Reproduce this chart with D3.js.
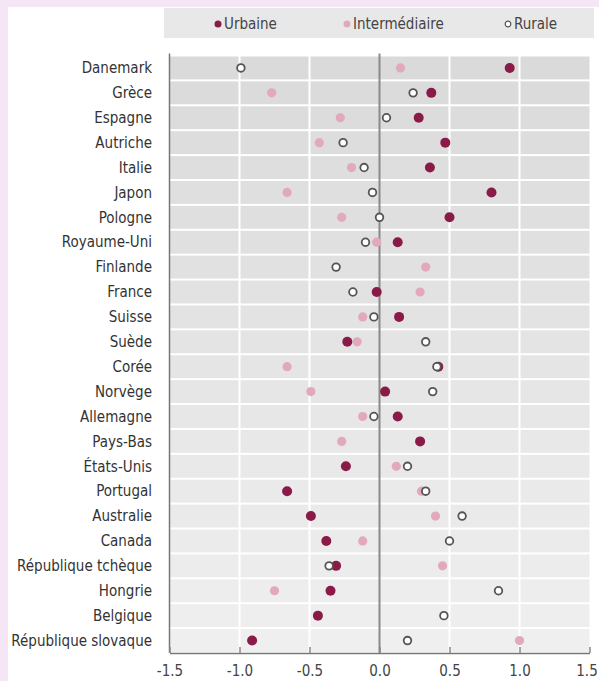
<!DOCTYPE html>
<meta charset="utf-8">
<style>
  body { margin: 0; background: #fff; }
  svg { display: block; }
  text { font-family: "DejaVu Sans", sans-serif; font-stretch: condensed; fill: #333; }
</style>
<body>
<script src="https://cdn.jsdelivr.net/npm/d3@7"></script>
<script>

  var countries = ["Danemark", "Grèce", "Espagne", "Autriche", "Italie", "Japon", "Pologne",
    "Royaume-Uni", "Finlande", "France", "Suisse", "Suède", "Corée", "Norvège", "Allemagne",
    "Pays-Bas", "États-Unis", "Portugal", "Australie", "Canada", "République tchèque",
    "Hongrie", "Belgique", "République slovaque"];

  var urbaine = [0.93, 0.37, 0.28, 0.47, 0.36, 0.80, 0.50, 0.13, null, -0.02, 0.14, -0.23, 0.42,
    0.04, 0.13, 0.29, -0.24, -0.66, -0.49, -0.38, -0.31, -0.35, -0.44, -0.91];

  var intermediaire = [0.15, -0.77, -0.28, -0.43, -0.20, -0.66, -0.27, -0.02, 0.33, 0.29, -0.12,
    -0.16, -0.66, -0.49, -0.12, -0.27, 0.12, 0.30, 0.40, -0.12, 0.45, -0.75, null, 1.00];

  var rurale = [-0.99, 0.24, 0.05, -0.26, -0.11, -0.05, 0.0, -0.10, -0.31, -0.19, -0.04, 0.33, 0.41,
    0.38, -0.04, null, 0.20, 0.33, 0.59, 0.50, -0.36, 0.85, 0.46, 0.20];

  var ticks = [-1.5, -1.0, -0.5, 0.0, 0.5, 1.0, 1.5];

  var W = 599, H = 681;
  var margin = {top: 55.5, left: 169.5, right: 9.5, bottom: 28};

  var svg = d3.select("body").append("svg")
    .attr("width", W)
    .attr("height", H);

  // pink frame on top and left
  svg.append("rect").attr("width", W).attr("height", H).attr("fill", "#f4e6f4");
  svg.append("rect").attr("x", 8).attr("y", 7).attr("width", W - 8).attr("height", H - 7).attr("fill", "#fff");

  var x = d3.scaleLinear()
    .domain([-1.5, 1.5])
    .range([margin.left, W - margin.right]);

  var y = d3.scaleBand()
    .domain(countries)
    .range([margin.top, H - margin.bottom]);

  // Legend bar.
  svg.append("rect")
    .attr("x", 164).attr("y", 8).attr("width", 430).attr("height", 30)
    .attr("fill", "#e8e8e8");

  var legend = [
    {name: "Urbaine", x: 218, fill: "#8a1a48", stroke: "none"},
    {name: "Intermédiaire", x: 347, fill: "#e2a9be", stroke: "none"},
    {name: "Rurale", x: 508, fill: "#fff", stroke: "#555"}
  ];
  var lg = svg.selectAll(".leg").data(legend).enter().append("g")
    .attr("transform", function(d) { return "translate(" + d.x + ",24)"; });
  lg.append("circle")
    .attr("r", function(d) { return d.stroke == "none" ? 3.5 : 2.8; })
    .attr("fill", function(d) { return d.fill; })
    .attr("stroke", function(d) { return d.stroke; })
    .attr("stroke-width", 1.2);
  lg.append("text")
    .attr("x", 6).attr("dy", "0.35em")
    .style("font-size", "15px")
    .style("fill", "#444")
    .text(function(d) { return d.name; });

  // Row bands, getting lighter towards the bottom.
  var shade = d3.interpolateRgb("#dadada", "#efefef");
  svg.selectAll(".band").data(countries).enter().append("rect")
    .attr("x", x(-1.5)).attr("width", x(1.5) - x(-1.5))
    .attr("y", function(d) { return y(d) + 1; })
    .attr("height", y.bandwidth() - 2)
    .attr("fill", function(d, i) { return shade(i / (countries.length - 1)); });

  // White vertical gridlines.
  svg.selectAll(".grid").data([-1.0, -0.5, 0.5, 1.0]).enter().append("line")
    .attr("x1", x).attr("x2", x)
    .attr("y1", margin.top).attr("y2", H - margin.bottom)
    .attr("stroke", "#fff").attr("stroke-width", 2);

  // Zero line.
  svg.append("line")
    .attr("x1", x(0)).attr("x2", x(0))
    .attr("y1", margin.top - 2).attr("y2", H - margin.bottom)
    .attr("stroke", "#8a8a8a").attr("stroke-width", 2);

  // Left axis line.
  svg.append("line")
    .attr("x1", x(-1.5)).attr("x2", x(-1.5))
    .attr("y1", margin.top - 2).attr("y2", H - margin.bottom)
    .attr("stroke", "#777").attr("stroke-width", 1.5);

  // Bottom axis.
  var xAxis = svg.append("g")
    .attr("transform", "translate(0," + (H - margin.bottom) + ")")
    .call(d3.axisBottom(x).tickValues(ticks).tickSize(0).tickPadding(12).tickFormat(d3.format(".1f")));
  xAxis.select(".domain").attr("stroke", "#777").attr("stroke-width", 1.5);
  xAxis.selectAll(".tick text")
    .style("font-family", "DejaVu Sans")
    .style("font-stretch", "condensed")
    .style("font-size", "15px")
    .style("fill", "#444")
    .attr("dx", function(d) { return d === 1.5 ? -3 : 0; })
    .text(function(d) { return d3.format(".1f")(d).replace("−", "-"); });
  xAxis.selectAll(".tick").append("line")
    .attr("y1", 0).attr("y2", -6).attr("stroke", "#888").attr("stroke-width", 1.5);

  // Country labels.
  svg.selectAll(".lab").data(countries).enter().append("text")
    .attr("x", 152)
    .attr("y", function(d) { return y(d) + y.bandwidth() / 2; })
    .attr("dy", "0.35em")
    .attr("text-anchor", "end")
    .style("font-size", "15px")
    .text(function(d) { return d; });

  function dots(values, fill, stroke, r) {
    svg.append("g").selectAll("circle")
      .data(values.map(function(v, i) { return {v: v, c: countries[i]}; }).filter(function(d) { return d.v !== null; }))
      .enter().append("circle")
      .attr("cx", function(d) { return x(d.v); })
      .attr("cy", function(d) { return y(d.c) + y.bandwidth() / 2; })
      .attr("r", r)
      .attr("fill", fill)
      .attr("stroke", stroke)
      .attr("stroke-width", 1.8);
  }

  dots(intermediaire, "#e2a9be", "none", 4.6);
  dots(urbaine, "#8a1a48", "none", 5);
  dots(rurale, "#fff", "#555", 3.8);

</script>
